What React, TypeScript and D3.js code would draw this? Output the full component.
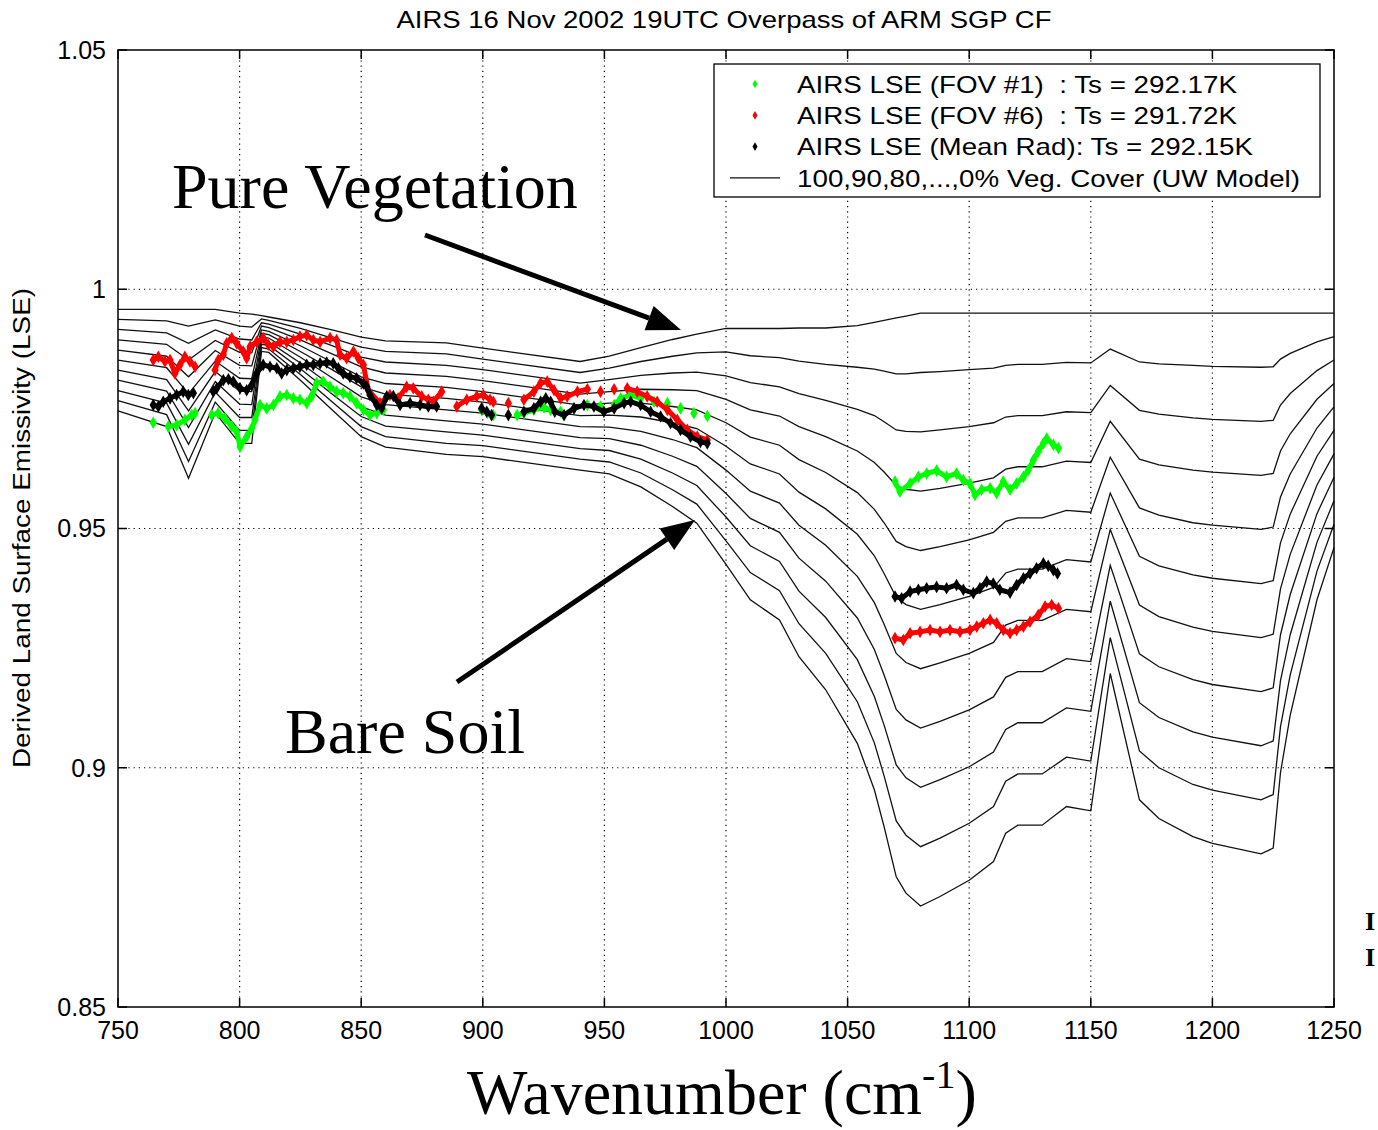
import React, { useEffect, useRef } from 'react';
import * as d3 from 'd3';

// wavenumber grid of the UW model curves (cm-1)
const wavenumbers = [750, 770, 779, 790, 800, 805, 809, 812, 825, 838, 850, 860, 885, 900, 940, 952, 965, 978, 988, 1000,
  1010, 1022, 1030, 1041, 1054, 1061, 1065, 1070, 1074, 1080, 1088, 1100, 1110, 1115, 1120, 1130, 1140, 1150, 1158, 1170,
  1178, 1192, 1200, 1220, 1225, 1228, 1232, 1243, 1250];

// emissivity for 100,90,...,0% vegetation cover
const veg100 = [.9958, .9958, .9958, .9958, .9950, .9948, .9945, .9942, .9930, .9915, .9900, .9892, .9888, .9877, .9849, .9860, .9878, .9895, .9906, .9918,
  .9918, .9918, .9919, .9919, .9924, .9931, .9935, .9940, .9944, .9950, .9950, .9950, .9950, .9950, .9950, .9950, .9950, .9950, .9950, .9950,
  .9950, .9950, .9950, .9950, .9950, .9950, .9950, .9950, .9950];
const veg90 = [.9937, .9934, .9923, .9936, .9923, .9921, .9938, .9935, .9918, .9898, .9879, .9870, .9865, .9854, .9826, .9835, .9849, .9860, .9867, .9869,
  .9861, .9857, .9850, .9843, .9837, .9833, .9829, .9823, .9823, .9826, .9828, .9832, .9835, .9841, .9843, .9843, .9847, .9846, .9875, .9848,
  .9844, .9841, .9839, .9837, .9838, .9854, .9866, .9890, .9901];
const veg80 = [.9916, .9909, .9887, .9915, .9896, .9894, .9930, .9927, .9906, .9882, .9858, .9848, .9841, .9832, .9804, .9811, .9820, .9825, .9827, .9819,
  .9805, .9796, .9782, .9768, .9749, .9736, .9723, .9706, .9703, .9702, .9706, .9713, .9721, .9733, .9736, .9736, .9744, .9742, .9799, .9747,
  .9739, .9731, .9728, .9724, .9726, .9758, .9782, .9830, .9852];
const veg70 = [.9894, .9885, .9852, .9893, .9868, .9867, .9923, .9920, .9894, .9865, .9838, .9825, .9818, .9809, .9781, .9786, .9791, .9790, .9788, .9770,
  .9748, .9735, .9713, .9692, .9662, .9638, .9618, .9590, .9582, .9578, .9584, .9595, .9606, .9624, .9629, .9629, .9641, .9638, .9724, .9645,
  .9633, .9622, .9618, .9611, .9615, .9662, .9698, .9770, .9803];
const veg60 = [.9873, .9860, .9817, .9872, .9841, .9840, .9915, .9912, .9882, .9848, .9817, .9803, .9795, .9786, .9758, .9762, .9762, .9755, .9748, .9721,
  .9691, .9674, .9644, .9617, .9575, .9540, .9512, .9473, .9462, .9454, .9462, .9476, .9492, .9515, .9522, .9522, .9538, .9534, .9649, .9543,
  .9528, .9512, .9507, .9498, .9503, .9566, .9614, .9710, .9754];
const veg50 = [.9852, .9836, .9782, .9850, .9814, .9813, .9908, .9905, .9870, .9832, .9796, .9781, .9772, .9764, .9736, .9737, .9733, .9721, .9709, .9672,
  .9635, .9614, .9576, .9541, .9488, .9443, .9406, .9356, .9341, .9331, .9341, .9358, .9377, .9407, .9415, .9415, .9435, .9430, .9574, .9442,
  .9422, .9403, .9396, .9385, .9391, .9470, .9530, .9651, .9705];
const veg40 = [.9831, .9811, .9746, .9828, .9787, .9786, .9900, .9898, .9858, .9815, .9775, .9759, .9748, .9741, .9713, .9712, .9703, .9686, .9669, .9622,
  .9578, .9553, .9507, .9465, .9400, .9345, .9300, .9239, .9220, .9207, .9219, .9239, .9262, .9298, .9308, .9308, .9331, .9326, .9498, .9340,
  .9316, .9294, .9285, .9272, .9279, .9374, .9446, .9591, .9656];
const veg30 = [.9810, .9787, .9711, .9807, .9760, .9759, .9893, .9890, .9846, .9798, .9754, .9737, .9725, .9718, .9690, .9688, .9674, .9651, .9630, .9573,
  .9521, .9492, .9438, .9390, .9313, .9247, .9194, .9122, .9100, .9083, .9097, .9121, .9148, .9189, .9201, .9201, .9228, .9222, .9423, .9238,
  .9211, .9184, .9174, .9159, .9167, .9278, .9362, .9531, .9607];
const veg20 = [.9788, .9762, .9676, .9785, .9732, .9732, .9885, .9883, .9834, .9781, .9734, .9714, .9702, .9695, .9667, .9663, .9645, .9616, .9590, .9524,
  .9464, .9431, .9369, .9314, .9226, .9149, .9089, .9006, .8979, .8959, .8975, .9002, .9033, .9080, .9094, .9094, .9125, .9118, .9348, .9136,
  .9105, .9075, .9064, .9046, .9056, .9182, .9278, .9471, .9558];
const veg10 = [.9767, .9738, .9640, .9764, .9705, .9705, .9878, .9875, .9822, .9765, .9713, .9692, .9678, .9673, .9645, .9639, .9616, .9581, .9551, .9474,
  .9408, .9370, .9301, .9239, .9138, .9052, .8983, .8889, .8859, .8835, .8853, .8884, .8919, .8972, .8987, .8987, .9022, .9014, .9272, .9035,
  .9000, .8965, .8953, .8933, .8944, .9086, .9194, .9411, .9509];
const veg0 = [.9746, .9713, .9605, .9742, .9678, .9678, .9870, .9868, .9810, .9748, .9692, .9670, .9655, .9650, .9622, .9614, .9587, .9546, .9511, .9425,
  .9351, .9309, .9232, .9163, .9051, .8954, .8877, .8772, .8738, .8711, .8731, .8765, .8804, .8863, .8880, .8880, .8919, .8910, .9197, .8933,
  .8894, .8856, .8842, .8820, .8832, .8990, .9110, .9351, .9460];

const modelCurves = [veg100, veg90, veg80, veg70, veg60, veg50, veg40, veg30, veg20, veg10, veg0];

// AIRS retrieved LSE, [wavenumber, emissivity]
const fov1 = [
  [764.5, .9721], [770.7, .9713], [774.1, .9716], [777.5, .9727], [780.3, .9737], [781.7, .9741],
  [788.5, .9737], [791.2, .9741], [794, .9730], [796.8, .9713], [798.8, .9702], [800.2, .9671], [802.9, .9692], [805, .9709],
  [806.3, .9727], [808.4, .9758], [811.1, .9751], [813.9, .9758], [816.6, .9776], [819.4, .9779], [822.1, .9772], [824.8, .9769],
  [827.6, .9762], [829.6, .9776], [831.7, .9804], [834.4, .9807], [837.2, .9796], [839.9, .9786], [842.6, .9783], [845.4, .9776],
  [848.1, .9762], [850.9, .9748], [853.6, .9737], [856.4, .9741], [859.1, .9748],
  [899.5, .9748], [902, .9742], [904.3, .9737],
  [914.1, .9737], [916.9, .9741], [921, .9748], [925.2, .9753], [927.9, .9748], [932, .9744], [937.5, .9751], [943, .9758],
  [948.4, .9755], [954, .9758], [956.7, .9772], [960.8, .9779], [964.9, .9772], [970.4, .9765], [975.9, .9762], [981.3, .9751],
  [986.8, .9741], [992.3, .9735],
  [1069.5, .9598], [1071.5, .9577], [1075.7, .9594], [1079.1, .9608], [1082.5, .9615], [1086.6, .9621], [1090.7, .9608],
  [1094.8, .9615], [1097.6, .9601], [1100.3, .9594], [1102.4, .9570], [1105.1, .9581], [1108.6, .9584], [1111.3, .9574],
  [1114, .9598], [1116.8, .9581], [1119.5, .9594], [1122.3, .9608], [1124.3, .9622], [1126.4, .9643], [1128.4, .9661],
  [1130.5, .9678], [1131.9, .9688], [1134.6, .9675], [1136.7, .9668],
];
const fov6 = [
  [764.5, .9852], [766.6, .9859], [769.3, .9849], [771.4, .9852], [773.4, .9824], [775.5, .9842], [777.5, .9859], [779.6, .9849], [781.7, .9838],
  [789.9, .9831], [791.2, .9852], [793.3, .9863], [794.7, .9887], [796.8, .9898], [798.8, .9887], [801.5, .9870], [802.9, .9856],
  [804.3, .9880], [807, .9890], [809.7, .9898], [811.8, .9884], [813.9, .9880], [816.6, .9890], [819.4, .9890], [822.1, .9894],
  [824.8, .9901], [827.6, .9904], [830.3, .9894], [833.1, .9890], [837.2, .9898], [839.9, .9894], [841.3, .9863], [844, .9856],
  [846.8, .9870], [848.8, .9856], [850.9, .9842], [852.9, .9789], [857.7, .9762], [861.8, .9779], [865.2, .9772], [868.7, .9796],
  [871.4, .9793], [874.9, .9776], [877.6, .9769], [879.7, .9765], [883.1, .9786],
  [889.3, .9755], [893.4, .9769], [897.5, .9776], [900.2, .9779], [903, .9769], [904.3, .9765],
  [910.5, .9762], [916.9, .9769], [921, .9786], [923.8, .9804], [926.5, .9807], [929.3, .9789], [932, .9772], [934.7, .9776],
  [938.9, .9786], [943, .9791], [948.4, .9786], [954, .9791], [959.4, .9793], [963.5, .9786], [967.6, .9776], [971.7, .9765],
  [975.9, .9748], [980, .9727], [984.1, .9706], [988.2, .9692], [992.3, .9685],
  [1069.5, .9271], [1072.9, .9267], [1075.7, .9281], [1079.8, .9284], [1083.9, .9288], [1088, .9284], [1092.1, .9288],
  [1096.2, .9284], [1100.3, .9288], [1103.1, .9295], [1105.8, .9302], [1108.6, .9309], [1111.3, .9302], [1114, .9288],
  [1116.8, .9281], [1119.5, .9288], [1122.3, .9295], [1125, .9305], [1128.4, .9319], [1131.2, .9337], [1133.9, .9340], [1136.7, .9333],
];
const meanRad = [
  [764.5, .9758], [766.6, .9755], [768.6, .9765], [771.4, .9772], [774.1, .9779], [776.8, .9786], [778.9, .9779], [781, .9783],
  [789.2, .9786], [790.6, .9793], [793.3, .9810], [795.4, .9812], [797.4, .9807], [800.2, .9793], [802.9, .9789], [805, .9800],
  [807, .9824], [809.7, .9842], [812.5, .9838], [815.3, .9835], [817.3, .9824], [819.4, .9831], [822.1, .9835], [824.8, .9838],
  [827.6, .9842], [830.3, .9842], [833.1, .9845], [835.8, .9847], [838.5, .9845], [840.6, .9835], [842.6, .9824], [845.4, .9817],
  [848.1, .9814], [850.9, .9803], [852.3, .9796], [853.6, .9779], [856.4, .9758], [858.4, .9751], [860.5, .9776], [863.2, .9777],
  [866, .9758], [870.1, .9762], [874.2, .9758], [877.6, .9755], [881, .9755],
  [899.5, .9751], [901.6, .9744], [903.6, .9737],
  [910.5, .9737], [916.9, .9744], [921, .9751], [923.8, .9765], [925.9, .9772], [927.9, .9765], [929.6, .9744], [933.4, .9737],
  [937.5, .9751], [941.6, .9758], [945.7, .9755], [949.8, .9744], [954, .9751], [958.1, .9762], [960.8, .9765], [964.9, .9758],
  [969, .9744], [973.1, .9734], [977.2, .9720], [981.3, .9706], [985.4, .9692], [989.5, .9681], [992.3, .9678],
  [1069.5, .9358], [1072.2, .9354], [1075.7, .9368], [1079.1, .9372], [1082.5, .9375], [1086.6, .9378], [1090.7, .9375],
  [1094.8, .9382], [1097.6, .9372], [1101.7, .9365], [1104.4, .9375], [1107.2, .9389], [1109.9, .9385], [1112.6, .9372],
  [1116.8, .9366], [1119.5, .9382], [1122.3, .9396], [1125, .9406], [1127.7, .9417], [1130.5, .9427], [1132.5, .9422],
  [1134.6, .9413], [1136.3, .9406],
];

const xTicks = [750, 800, 850, 900, 950, 1000, 1050, 1100, 1150, 1200, 1250];
const yTicks = [0.85, 0.9, 0.95, 1, 1.05];
const yTickLabels = ['0.85', '0.9', '0.95', '1', '1.05'];

const legendLabels = [
  'AIRS LSE (FOV #1)  : Ts = 292.17K',
  'AIRS LSE (FOV #6)  : Ts = 291.72K',
  'AIRS LSE (Mean Rad): Ts = 292.15K',
  '100,90,80,...,0% Veg. Cover (UW Model)',
];
const legendWidths = [440, 440, 456, 503];
const seriesColors = ['#00ff00', '#ff0000', '#000000'];

// break a channel list where the spectrum has a gap
function splitTracks(points: number[][], maxGap: number) {
  const tracks: number[][][] = [];
  let current: number[][] = [];
  points.forEach((p, i) => {
    if (i > 0 && p[0] - points[i - 1][0] > maxGap) {
      tracks.push(current);
      current = [];
    }
    current.push(p);
  });
  if (current.length) tracks.push(current);
  return tracks;
}

function App() {
  const svgRef = useRef<SVGSVGElement>(null);

  useEffect(() => {
    document.body.style.margin = '0';
    const svg = d3.select(svgRef.current);
    svg.selectAll('*').remove();

    const left = 118, right = 1334, top = 50, bottom = 1007;
    const x = d3.scaleLinear().domain([750, 1250]).range([left, right]);
    const y = d3.scaleLinear().domain([0.85, 1.05]).range([bottom, top]);
    const sans = 'Arial, "Liberation Sans", Helvetica, sans-serif';
    const serif = '"Times New Roman", "Liberation Serif", serif';

    svg.append('rect').attr('width', 1378).attr('height', 1130).attr('fill', 'white');

    // dotted grid
    const grid = svg.append('g').attr('stroke', '#000').attr('stroke-width', 1.2).attr('stroke-dasharray', '1.2,4');
    xTicks.slice(1, -1).forEach(t => {
      grid.append('line').attr('x1', x(t)).attr('x2', x(t)).attr('y1', top).attr('y2', bottom);
    });
    yTicks.slice(1, -1).forEach(t => {
      grid.append('line').attr('x1', left).attr('x2', right).attr('y1', y(t)).attr('y2', y(t));
    });

    // model curves
    const line = d3.line<number>()
      .x((_, i) => x(wavenumbers[i]))
      .y(d => y(d));
    svg.append('g')
      .selectAll('path')
      .data(modelCurves)
      .enter()
      .append('path')
      .attr('d', d => line(d))
      .attr('fill', 'none')
      .attr('stroke', '#111')
      .attr('stroke-width', 1.3);

    // AIRS tracks
    const track = d3.line<number[]>().x(d => x(d[0])).y(d => y(d[1]));
    const diamond = d3.symbol().type(d3.symbolDiamond).size(46);
    [fov1, fov6, meanRad].forEach((series, si) => {
      const g = svg.append('g');
      g.selectAll('path.track')
        .data(splitTracks(series, 5))
        .enter()
        .append('path')
        .attr('class', 'track')
        .attr('d', d => track(d))
        .attr('fill', 'none')
        .attr('stroke', seriesColors[si])
        .attr('stroke-width', 5)
        .attr('stroke-linecap', 'round')
        .attr('stroke-linejoin', 'round');
      g.selectAll('path.mark')
        .data(series)
        .enter()
        .append('path')
        .attr('class', 'mark')
        .attr('d', diamond)
        .attr('transform', d => `translate(${x(d[0])},${y(d[1])})`)
        .attr('fill', seriesColors[si]);
    });

    // frame and ticks
    svg.append('rect')
      .attr('x', left).attr('y', top).attr('width', right - left).attr('height', bottom - top)
      .attr('fill', 'none').attr('stroke', '#000').attr('stroke-width', 1.5);
    const ticks = svg.append('g').attr('stroke', '#000').attr('stroke-width', 1.5);
    xTicks.forEach(t => {
      ticks.append('line').attr('x1', x(t)).attr('x2', x(t)).attr('y1', bottom).attr('y2', bottom - 9);
      ticks.append('line').attr('x1', x(t)).attr('x2', x(t)).attr('y1', top).attr('y2', top + 9);
    });
    yTicks.forEach(t => {
      ticks.append('line').attr('x1', left).attr('x2', left + 9).attr('y1', y(t)).attr('y2', y(t));
      ticks.append('line').attr('x1', right).attr('x2', right - 9).attr('y1', y(t)).attr('y2', y(t));
    });

    svg.append('g')
      .selectAll('text')
      .data(xTicks)
      .enter()
      .append('text')
      .attr('x', d => x(d))
      .attr('y', bottom + 32)
      .attr('text-anchor', 'middle')
      .attr('font-family', sans)
      .attr('font-size', 25)
      .text(d => String(d));

    svg.append('g')
      .selectAll('text')
      .data(yTicks)
      .enter()
      .append('text')
      .attr('x', left - 12)
      .attr('y', d => y(d))
      .attr('dy', '0.35em')
      .attr('text-anchor', 'end')
      .attr('font-family', sans)
      .attr('font-size', 25)
      .text((_, i) => yTickLabels[i]);

    // title and axis labels
    svg.append('text')
      .attr('x', 724).attr('y', 28)
      .attr('text-anchor', 'middle')
      .attr('font-family', sans).attr('font-size', 24)
      .attr('textLength', 655).attr('lengthAdjust', 'spacingAndGlyphs')
      .text('AIRS 16 Nov 2002 19UTC Overpass of ARM SGP CF');

    svg.append('text')
      .attr('transform', 'translate(30,528) rotate(-90)')
      .attr('text-anchor', 'middle')
      .attr('font-family', sans).attr('font-size', 23)
      .attr('textLength', 480).attr('lengthAdjust', 'spacingAndGlyphs')
      .text('Derived Land Surface Emissivity (LSE)');

    const xLabel = svg.append('text')
      .attr('x', 467).attr('y', 1114)
      .attr('font-family', serif).attr('font-size', 64);
    xLabel.append('tspan').text('Wavenumber (cm');
    xLabel.append('tspan').attr('dy', -26).attr('font-size', 40).text('-1');
    xLabel.append('tspan').attr('dy', 26).text(')');

    // legend
    const legend = svg.append('g');
    legend.append('rect')
      .attr('x', 714).attr('y', 64).attr('width', 606).attr('height', 133)
      .attr('fill', 'white').attr('stroke', '#000').attr('stroke-width', 1.3);
    legendLabels.forEach((label, i) => {
      const cy = 84 + i * 31.3;
      if (i < 3) {
        legend.append('path')
          .attr('d', d3.symbol().type(d3.symbolDiamond).size(22)())
          .attr('transform', `translate(755,${cy})`)
          .attr('fill', seriesColors[i]);
      } else {
        legend.append('line')
          .attr('x1', 730).attr('x2', 780).attr('y1', cy).attr('y2', cy)
          .attr('stroke', '#111').attr('stroke-width', 1.3);
      }
      legend.append('text')
        .attr('x', 797).attr('y', cy).attr('dy', '0.36em')
        .attr('font-family', sans).attr('font-size', 24)
        .attr('xml:space', 'preserve')
        .style('white-space', 'pre')
        .attr('textLength', legendWidths[i]).attr('lengthAdjust', 'spacingAndGlyphs')
        .text(label);
    });

    // annotations
    svg.append('text')
      .attr('x', 172).attr('y', 208)
      .attr('font-family', serif).attr('font-size', 64)
      .text('Pure Vegetation');
    svg.append('text')
      .attr('x', 285).attr('y', 753)
      .attr('font-family', serif).attr('font-size', 64)
      .text('Bare Soil');

    const arrow = (x0: number, y0: number, x1: number, y1: number) => {
      const a = Math.atan2(y1 - y0, x1 - x0);
      const len = 34, half = 13;
      const bx = x1 - len * Math.cos(a), by = y1 - len * Math.sin(a);
      svg.append('line')
        .attr('x1', x0).attr('y1', y0).attr('x2', bx).attr('y2', by)
        .attr('stroke', '#000').attr('stroke-width', 5);
      svg.append('polygon')
        .attr('points', [
          [x1, y1],
          [bx - half * Math.sin(a), by + half * Math.cos(a)],
          [bx + half * Math.sin(a), by - half * Math.cos(a)],
        ].map(p => p.join(',')).join(' '))
        .attr('fill', '#000');
    };
    arrow(425, 235, 681, 330);
    arrow(457, 682, 695, 520);

    // letters at the right edge of the original figure
    [930, 966].forEach(yy => {
      svg.append('text')
        .attr('x', 1365).attr('y', yy)
        .attr('font-family', serif).attr('font-size', 26).attr('font-weight', 'bold')
        .text('I');
    });
  }, []);

  return (
    <svg ref={svgRef} width={1378} height={1130} style={{ display: 'block' }} />
  );
}

export default App;
